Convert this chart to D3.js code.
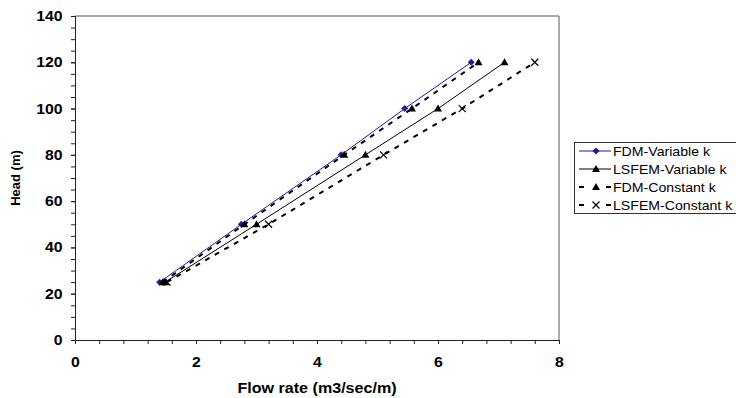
<!DOCTYPE html>
<html>
<head>
<meta charset="utf-8">
<script src="https://cdn.jsdelivr.net/npm/d3@7"></script>
<style>
  body { margin: 0; background: #fff; }
  text { font-family: "Liberation Sans", Arial, sans-serif; }
</style>
</head>
<body>
<div id="chart"></div>
<script>
// head values shared by all series
const heads = [25, 50, 80, 100, 120];
// flow rates
const fdmVariable = [1.40, 2.75, 4.40, 5.45, 6.55];
const lsfemVariable = [1.49, 3.00, 4.80, 6.00, 7.10];
const fdmConstant = [1.45, 2.80, 4.45, 5.57, 6.67];
const lsfemConstant = [1.52, 3.20, 5.10, 6.40, 7.60];

const seriesNames = ['FDM-Variable k', 'LSFEM-Variable k', 'FDM-Constant k', 'LSFEM-Constant k'];
const xTicks = [0, 2, 4, 6, 8];
const yTicks = [0, 20, 40, 60, 80, 100, 120, 140];

const width = 736, height = 398;
const margin = {left: 75, right: 177, top: 16, bottom: 58};
const stretch = 1.13; // the original text is a bit wide

const series = [
  {name: seriesNames[0], xs: fdmVariable, color: '#1c1c9c', dash: null, sw: 1, marker: 'diamond'},
  {name: seriesNames[1], xs: lsfemVariable, color: '#000', dash: null, sw: 1, marker: 'triangle'},
  {name: seriesNames[2], xs: fdmConstant, color: '#000', dash: '5,6', sw: 2, marker: 'triangle'},
  {name: seriesNames[3], xs: lsfemConstant, color: '#000', dash: '5,6', sw: 2, marker: 'cross'}
];

const x = d3.scaleLinear().domain([0, 8]).range([margin.left, width - margin.right]);
const y = d3.scaleLinear().domain([0, 140]).range([height - margin.bottom, margin.top]);

const svg = d3.select('#chart').append('svg')
  .attr('width', width)
  .attr('height', height);

// plot frame (top and right)
svg.append('path')
  .attr('d', `M${x(0)},${y(140)}H${x(8)}V${y(0)}`)
  .attr('fill', 'none').attr('stroke', '#555').attr('stroke-width', 1);

// x axis: minor then major ticks
svg.append('g').attr('transform', `translate(0,${y(0)})`)
  .call(d3.axisBottom(x).tickValues(d3.range(0, 8.01, 0.4)).tickSize(4).tickFormat(''));
const xAxis = svg.append('g').attr('transform', `translate(0,${y(0)})`)
  .call(d3.axisBottom(x).tickValues(xTicks).tickSize(4).tickPadding(13).tickFormat(d3.format('d')));
xAxis.selectAll('text')
  .attr('font-size', 14).attr('font-weight', 'bold').attr('fill', '#000')
  .attr('transform', `scale(${stretch},1)`);

// y axis: minor then major ticks
svg.append('g').attr('transform', `translate(${x(0)},0)`)
  .call(d3.axisLeft(y).tickValues(d3.range(0, 141, 5)).tickSize(4).tickFormat(''));
const yAxis = svg.append('g').attr('transform', `translate(${x(0)},0)`)
  .call(d3.axisLeft(y).tickValues(yTicks).tickSize(4).tickPadding(7).tickFormat(d3.format('d')));
yAxis.selectAll('text')
  .attr('font-size', 14).attr('font-weight', 'bold').attr('fill', '#000')
  .attr('transform', `scale(${stretch},1)`);

svg.selectAll('.domain, .tick line').attr('stroke', '#222');

// axis titles
svg.append('text')
  .attr('transform', `translate(${(x(0) + x(8)) / 2},393) scale(1.15,1)`)
  .attr('text-anchor', 'middle')
  .attr('font-size', 14).attr('font-weight', 'bold')
  .text('Flow rate (m3/sec/m)');
svg.append('text')
  .attr('transform', `translate(20,${(y(0) + y(140)) / 2}) rotate(-90)`)
  .attr('text-anchor', 'middle')
  .attr('font-size', 13).attr('font-weight', 'bold')
  .text('Head (m)');

function drawMarker(g, type, cx, cy, color) {
  if (type === 'diamond') {
    g.append('path').attr('d', `M${cx},${cy - 3.5}L${cx + 3.5},${cy}L${cx},${cy + 3.5}L${cx - 3.5},${cy}Z`)
      .attr('fill', color);
  } else if (type === 'triangle') {
    g.append('path').attr('d', `M${cx},${cy - 4}L${cx + 4},${cy + 3}L${cx - 4},${cy + 3}Z`)
      .attr('fill', color);
  } else {
    g.append('path').attr('d', `M${cx - 3.5},${cy - 3.5}L${cx + 3.5},${cy + 3.5}M${cx + 3.5},${cy - 3.5}L${cx - 3.5},${cy + 3.5}`)
      .attr('stroke', color).attr('stroke-width', 1.2);
  }
}

const line = d3.line().x(d => x(d[0])).y(d => y(d[1]));

series.forEach(s => {
  const pts = s.xs.map((v, i) => [v, heads[i]]);
  svg.append('path')
    .datum(pts)
    .attr('d', line)
    .attr('fill', 'none')
    .attr('stroke', s.color)
    .attr('stroke-width', s.sw)
    .attr('stroke-dasharray', s.dash);
  const g = svg.append('g');
  pts.forEach(p => drawMarker(g, s.marker, x(p[0]), y(p[1]), s.color));
});

// legend
const legend = svg.append('g');
legend.append('rect')
  .attr('x', 574.5).attr('y', 142.5).attr('width', 170).attr('height', 71)
  .attr('fill', '#fff').attr('stroke', '#333');
series.forEach((s, i) => {
  const ly = 151 + i * 18;
  legend.append('line')
    .attr('x1', 579).attr('x2', 611).attr('y1', ly).attr('y2', ly)
    .attr('stroke', s.color).attr('stroke-width', s.sw)
    .attr('stroke-dasharray', s.dash ? '5,22' : null);
  drawMarker(legend, s.marker, 596, ly, s.color);
  legend.append('text')
    .attr('transform', `translate(613,${ly + 4.5}) scale(${stretch},1)`)
    .attr('font-size', 12.5)
    .text(s.name);
});
</script>
</body>
</html>
